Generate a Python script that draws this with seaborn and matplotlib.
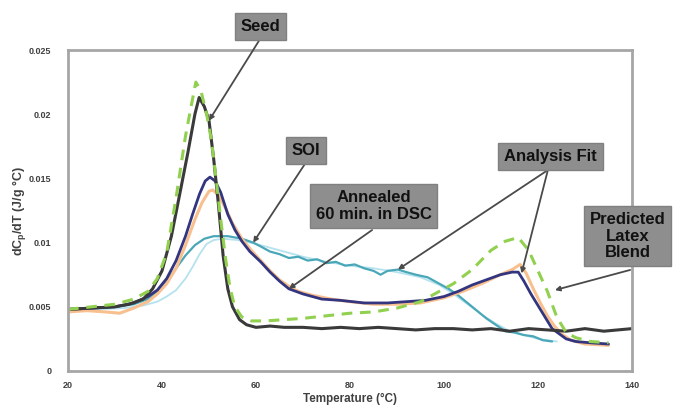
import numpy as np
import pandas as pd
import seaborn as sns
import matplotlib.pyplot as plt

# Seed latex (dark line)
seed_t = [20, 25, 30, 33, 36, 38, 40, 42, 44, 45.5, 47, 47.9, 49, 50, 51, 52, 53, 54, 55, 56.5,
          58, 60, 63, 66, 70, 74, 78, 82, 86, 90, 94, 98, 102, 106, 110, 114, 118, 122, 126, 130,
          134, 137, 140]
seed_v = [.0048, .0049, .0050, .0052, .0056, .0064, .0078, .0105, .0142, .0170,
          .0200, .0213, .0206, .0195, .0165, .0130, .0090, .0064, .0050, .0040,
          .0036, .0034, .0035, .0034, .0034, .0033, .0034, .0033, .0034, .0033,
          .0032, .0033, .0033, .0032, .0033, .0031, .0033, .0032, .0031, .0033,
          .0031, .0032, .0033]

# predicted latex blend (green dashed)
blend_t = [20, 25, 30, 34, 37, 39, 41, 43, 45, 46.3, 47.2, 48.3, 49.5, 50.5, 51.5, 52.5, 53.5, 54.5, 55.5, 57,
           59, 62, 66, 70, 75, 80, 85, 90, 95, 99, 102, 106, 110, 113, 115.8, 118, 120, 122, 124, 126,
           128, 131, 135]
blend_v = [.0048, .0050, .0052, .0056, .0062, .0072, .0092, .0135, .0183, .0208,
           .0225, .0218, .0200, .0180, .0150, .0118, .0088, .0064, .0050, .0042,
           .0039, .0039, .0040, .0041, .0043, .0045, .0046, .0049, .0054, .0062,
           .0068, .0079, .0094, .0101, .0104, .0094, .0078, .0062, .0042, .0030,
           .0026, .0023, .0022]

# analysis fit of annealed sample (navy)
fit_t = [20, 25, 30, 34, 37, 39, 41, 43, 45, 46.5, 48, 49.2, 50.2, 51.3, 52.5, 54, 55.5, 57, 58.7, 61,
         63, 65, 67, 70, 74, 78, 83, 88, 92, 96, 100, 103, 106, 109, 112, 114.5, 115.8, 117, 118.5, 120,
         121.5, 123, 124.5, 126, 128, 131, 135]
fit_v = [.0048, .0049, .0050, .0053, .0058, .0063, .0072, .0086, .0105, .0122,
         .0138, .0148, .0151, .0148, .0139, .0122, .0110, .0101, .0093, .0085,
         .0077, .0070, .0064, .0060, .0056, .0055, .0053, .0053, .0054, .0055,
         .0058, .0062, .0067, .0071, .0075, .0077, .0077, .0070, .0060, .0051,
         .0042, .0033, .0029, .0025, .0023, .0022, .0021]

# annealed 60 min in DSC (light orange)
anneal_t = [20, 24, 28, 31, 34, 37, 39, 41, 43, 45, 47, 48.5, 50, 50.8, 52, 53.5, 55, 57, 59, 61,
            63, 65, 67, 69, 72, 76, 80, 85, 90, 95, 100, 104, 108, 112, 114.5, 116.2, 117.5, 119, 120.5, 122,
            123.5, 125, 127, 130, 135]
anneal_v = [.0046, .0047, .0046, .0045, .0049, .0054, .0060, .0068, .0080, .0098,
            .0118, .0131, .0140, .0141, .0137, .0127, .0115, .0103, .0094, .0086,
            .0078, .0071, .0066, .0062, .0059, .0056, .0054, .0052, .0052, .0053,
            .0057, .0062, .0068, .0075, .0079, .0083, .0076, .0064, .0053, .0043,
            .0035, .0029, .0024, .0021, .0020]

# SOI data (teal)
soi_t = [20, 25, 30, 34, 37, 39, 41, 43, 45, 47, 49, 51, 54, 57, 59.4, 61, 63, 65, 67, 69,
         71, 73, 75, 77, 79, 81, 83, 85, 86.5, 88, 90.2, 92, 94, 96.5, 99, 101, 103, 105, 107, 109,
         111, 113, 115, 117, 119, 121, 123]
soi_v = [.0048, .0049, .0050, .0052, .0056, .0062, .0070, .0080, .0090, .0098,
         .0103, .0105, .0105, .0103, .0100, .0097, .0093, .0091, .0088, .0089,
         .0086, .0087, .0084, .0085, .0082, .0083, .0080, .0078, .0075, .0078,
         .0079, .0077, .0075, .0073, .0068, .0064, .0059, .0053, .0047, .0041,
         .0036, .0031, .0030, .0028, .0027, .0024, .0023]

# SOI fit (light cyan)
soifit_t = [20, 26, 32, 36, 39, 41, 43, 45, 46.5, 48, 49.5, 51, 53, 56, 60, 65, 70, 75, 80, 85,
            90, 95, 99, 102, 105, 108, 111, 114, 117, 120, 124]
soifit_v = [.0047, .0048, .0049, .0051, .0054, .0058, .0063, .0072, .0081, .0091,
            .0099, .0102, .0103, .0102, .0099, .0094, .0089, .0085, .0082, .0080,
            .0077, .0073, .0067, .0060, .0052, .0044, .0037, .0031, .0028, .0025, .0023]

x_ticks = [20, 40, 60, 80, 100, 120, 140]
y_ticks = [0, 0.005, 0.01, 0.015, 0.02, 0.025]
y_tick_labels = ["0", "0.005", "0.01", "0.015", "0.02", "0.025"]

# (label, box centre, arrow start, arrow targets)
notes = [
    ("Seed", (61.0, 0.02683), (60.6, 0.0257), [(50.0, 0.0195)]),
    ("SOI", (70.6, 0.01717), (70.4, 0.01612), [(59.4, 0.0100)]),
    ("Annealed\n60 min. in DSC", (85.0, 0.01285), (84.7, 0.01098), [(67.0, 0.0064)]),
    ("Analysis Fit", (122.7, 0.0167), (122.1, 0.01565), [(90.2, 0.0079), (116.5, 0.0076)]),
    ("Predicted\nLatex\nBlend", (139.1, 0.01051), (139.6, 0.00787), [(123.6, 0.0063)]),
]


if __name__ == "__main__":
    sns.set_style("white")
    plt.rcParams['font.family'] = ['Liberation Sans', 'DejaVu Sans']

    fig = plt.figure(figsize=(6.74, 4.08), dpi=100)
    ax = fig.add_axes([68 / 674, 1 - 371 / 408, 564 / 674, 321 / 408])

    sns.lineplot(x=soifit_t, y=soifit_v, ax=ax, color="#b5e2ee", lw=1.3, estimator=None, sort=False)
    sns.lineplot(x=soi_t, y=soi_v, ax=ax, color="#4aa7b8", lw=1.6, estimator=None, sort=False)
    sns.lineplot(x=anneal_t, y=anneal_v, ax=ax, color="#f9c08f", lw=2.2, estimator=None, sort=False)
    sns.lineplot(x=fit_t, y=fit_v, ax=ax, color="#34357f", lw=2.0, estimator=None, sort=False)
    sns.lineplot(x=seed_t, y=seed_v, ax=ax, color="#3a3a3a", lw=2.2, estimator=None, sort=False)
    sns.lineplot(x=blend_t, y=blend_v, ax=ax, color="#92d050", lw=2.2, estimator=None, sort=False)
    ax.lines[-1].set_dashes([3.5, 2.5])

    ax.set_xlim(20, 140)
    ax.set_ylim(0, 0.025)
    ax.set_xticks(x_ticks)
    ax.set_yticks(y_ticks)
    ax.set_yticklabels(y_tick_labels)
    ax.tick_params(axis='both', length=0, labelsize=6.5, labelcolor="#404040")
    ax.tick_params(axis='y', pad=12)
    ax.tick_params(axis='x', pad=7)
    for lab in ax.get_xticklabels() + ax.get_yticklabels():
        lab.set_fontweight('bold')
    for sp in ax.spines.values():
        sp.set_color("#a6a6a6")
        sp.set_linewidth(2)

    ax.set_xlabel("Temperature (°C)", fontsize=8.4, fontweight='bold', color="#404040", labelpad=2)
    ax.set_ylabel(r"dC$_\mathregular{p}$/dT (J/g °C)", fontsize=9, fontweight='bold', color="#404040")
    ax.yaxis.set_label_coords(-0.07, 0.5)

    for label, centre, start, targets in notes:
        ax.text(centre[0], centre[1], label, ha='center', va='center', fontsize=12,
                fontweight='bold', color="#111111", linespacing=1.15, zorder=10, clip_on=False,
                bbox=dict(boxstyle='square,pad=0.35', fc="#8e8e8e", ec="#808080", lw=1))
        for tgt in targets:
            ax.annotate("", xy=tgt, xytext=start, annotation_clip=False, zorder=9,
                        arrowprops=dict(arrowstyle='-|>', color="#4a4a4a", lw=1.3,
                                        mutation_scale=7, shrinkA=0, shrinkB=0))

    plt.savefig("out.png", dpi=100)
